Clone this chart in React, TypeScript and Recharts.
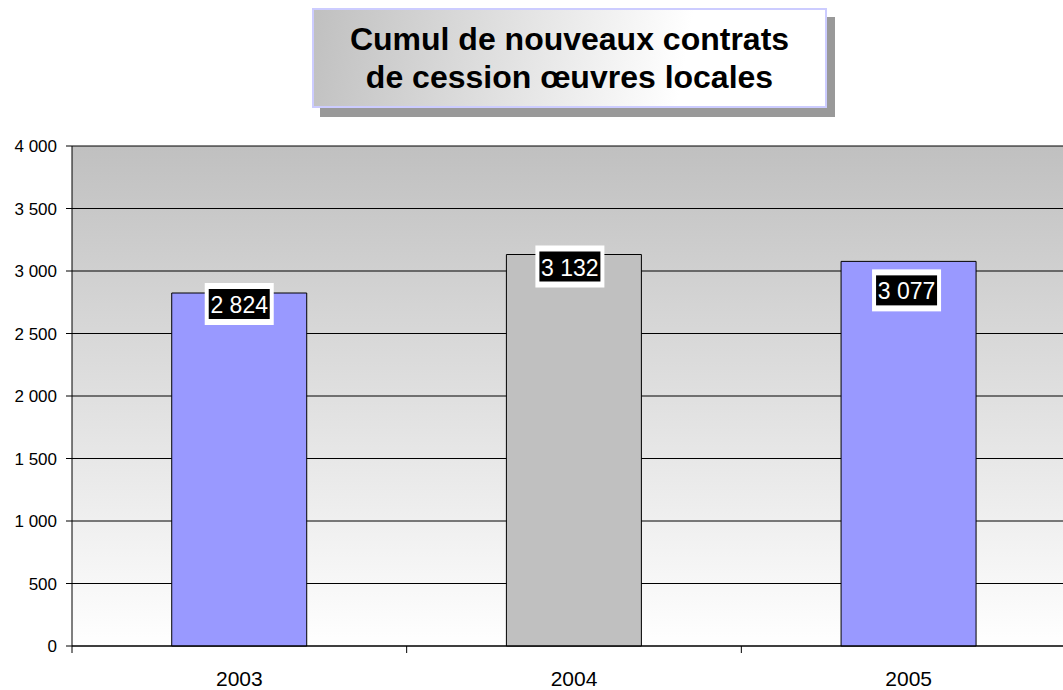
import { BarChart, Bar, XAxis, YAxis, CartesianGrid, LabelList, Cell } from 'recharts'

const YEARS = ['2003', '2004', '2005']
const CONTRACTS = [2824, 3132, 3077]
const Y_TICKS = [0, 500, 1000, 1500, 2000, 2500, 3000, 3500, 4000]
const TITLE_LINES = ['Cumul de nouveaux contrats', 'de cession œuvres locales']

const BAR_COLORS = ['#9999ff', '#c0c0c0', '#9999ff']
// label boxes were moved by hand in the original, offsets from the bar top
const LABEL_DY = [11, 12, 29]
const LABEL_DX = [0, -4, -2]

const data = YEARS.map((year, i) => ({ year, value: CONTRACTS[i] }))

const fmt = (v: number) => String(v).replace(/\B(?=(\d{3})+(?!\d))/g, ' ')

function ValueLabel(props: any) {
  const { x, y, width, value, index } = props
  const cx = x + width / 2 + (LABEL_DX[index] ?? 0)
  const cy = y + (LABEL_DY[index] ?? 0)
  const text = fmt(Number(value))
  const w = 61
  const h = 30
  return (
    <g>
      <rect x={cx - w / 2 - 4} y={cy - h / 2 - 6} width={w + 8} height={h + 12} fill="#fff" />
      <rect x={cx - w / 2} y={cy - h / 2} width={w} height={h} fill="#000" />
      <text x={cx} y={cy + 1} textAnchor="middle" dominantBaseline="central" fill="#fff" fontSize={23} fontFamily="Liberation Sans, Arial, sans-serif">
        {text}
      </text>
    </g>
  )
}

function YearTick(props: any) {
  const { x, y, payload } = props
  const off = payload?.offset ?? 0
  return (
    <g>
      <line x1={x - off} x2={x - off} y1={y - 8} y2={y - 1} stroke="#000" />
      <text x={x} y={y + 32} textAnchor="middle" fill="#000" fontSize={21} fontFamily="Liberation Sans, Arial, sans-serif">
        {payload.value}
      </text>
    </g>
  )
}

export default function App() {
  return (
    <div style={{ position: 'absolute', left: 0, top: 0, width: 1063, height: 690, overflow: 'hidden', background: '#fff', fontFamily: 'Liberation Sans, Arial, sans-serif' }}>
      <BarChart
        width={1080}
        height={690}
        data={data}
        margin={{ top: 146, right: 4, bottom: 4, left: 0 }}
        barCategoryGap="29.8%"
      >
        <defs>
          <linearGradient id="plotBg" x1="0" y1="0" x2="0" y2="1">
            <stop offset="0%" stopColor="#c0c0c0" />
            <stop offset="100%" stopColor="#ffffff" />
          </linearGradient>
        </defs>
        <CartesianGrid fill="url(#plotBg)" stroke="#000" vertical={false} />
        <XAxis
          dataKey="year"
          height={40}
          axisLine={{ stroke: '#000' }}
          tickLine={false}
          tick={<YearTick />}
          interval={0}
        />
        <YAxis
          width={72}
          domain={[0, 4000]}
          ticks={Y_TICKS}
          interval={0}
          axisLine={{ stroke: '#000' }}
          tickLine={{ stroke: '#000' }}
          tickSize={6}
          tickMargin={9}
          tickFormatter={fmt}
          tick={{ fill: '#000', fontSize: 17, fontFamily: 'Liberation Sans, Arial, sans-serif' }}
        />
        <Bar dataKey="value" stroke="#000" strokeWidth={1} isAnimationActive={false}>
          {data.map((d, i) => (
            <Cell key={d.year} fill={BAR_COLORS[i]} />
          ))}
          <LabelList dataKey="value" content={<ValueLabel />} />
        </Bar>
      </BarChart>
      <div style={{ position: 'absolute', left: 320, top: 17, width: 515, height: 100, background: '#999' }} />
      <div
        style={{
          position: 'absolute',
          left: 312,
          top: 8,
          width: 511,
          height: 96,
          border: '2px solid #ccccff',
          background: 'linear-gradient(100deg, #c0c0c0 0%, #ffffff 72%)',
          display: 'flex',
          flexDirection: 'column',
          justifyContent: 'center',
          alignItems: 'center',
          fontWeight: 'bold',
          fontSize: 32,
          lineHeight: '38px',
          color: '#000',
        }}
      >
        {TITLE_LINES.map((t) => (
          <div key={t}>{t}</div>
        ))}
      </div>
    </div>
  )
}
